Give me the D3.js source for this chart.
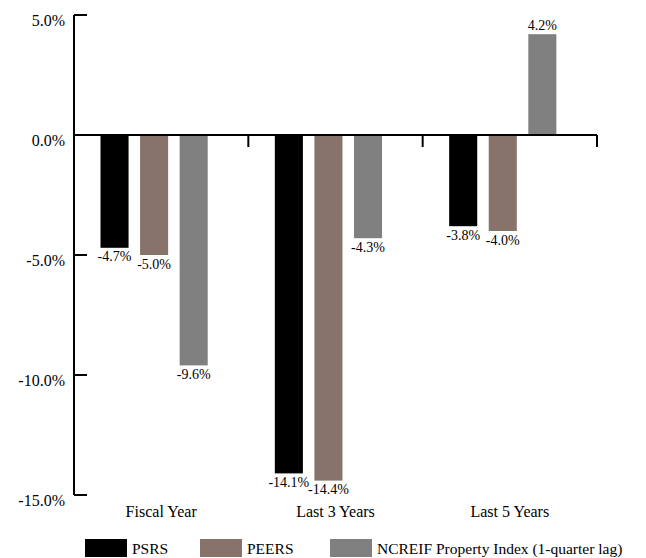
<!DOCTYPE html>
<html><head><meta charset="utf-8">
<script src="https://cdn.jsdelivr.net/npm/d3@7"></script>
<style>body{margin:0;background:#fff}svg{display:block;font-family:"Liberation Serif","Times New Roman",serif}</style>
</head><body><svg id="c" width="646" height="558"></svg>
<script>
const categories = ["Fiscal Year", "Last 3 Years", "Last 5 Years"];
const seriesNames = ["PSRS", "PEERS", "NCREIF Property Index (1-quarter lag)"];
const psrs = [-4.7, -14.1, -3.8];
const peers = [-5.0, -14.4, -4.0];
const ncreif = [-9.6, -4.3, 4.2];
const yTicks = [5, 0, -5, -10, -15];
const colors = ["#000000", "#877369", "#808080"];

(function () {
const seriesValues = [psrs, peers, ncreif];
const svg = d3.select("#c");
const fmt = v => d3.format(".1f")(v).replace("\u2212", "-") + "%";
const pLeft = 74, pRight = 597, pTop = 15, pBottom = 495;
const y = d3.scaleLinear().domain([-15, 5]).range([pBottom, pTop]);
const x = d3.scaleBand().domain(categories).range([pLeft, pRight]).padding(0);
const bw = x.bandwidth();
const inner = d3.scaleLinear().domain([0, 1]).range([bw * 0.152, bw * 0.152 + bw * 0.227]);
const barW = bw * 0.161;

// y axis
svg.append("line").attr("x1", pLeft).attr("x2", pLeft).attr("y1", y(5)).attr("y2", y(-15))
  .attr("stroke", "#000").attr("stroke-width", 2);
yTicks.forEach(t => {
  svg.append("line").attr("x1", pLeft).attr("x2", pLeft + 13).attr("y1", y(t)).attr("y2", y(t))
    .attr("stroke", "#000").attr("stroke-width", 2);
  svg.append("text").attr("x", 65).attr("y", y(t) + 10.5).attr("text-anchor", "end")
    .attr("font-size", 16).text(fmt(t));
});

// bars
seriesValues.forEach((vals, s) => {
  categories.forEach((c, i) => {
    const v = vals[i];
    const bx = x(c) + inner(s);
    svg.append("rect").attr("x", bx).attr("width", barW)
      .attr("y", Math.min(y(v), y(0))).attr("height", Math.abs(y(v) - y(0)))
      .attr("fill", colors[s]);
    svg.append("text").attr("x", bx + barW / 2)
      .attr("y", v < 0 ? y(v) + 13.5 : y(v) - 4)
      .attr("text-anchor", "middle").attr("font-size", 14)
      .text(fmt(v));
  });
});

// x axis
svg.append("line").attr("x1", pLeft).attr("x2", pRight).attr("y1", y(0)).attr("y2", y(0))
  .attr("stroke", "#000").attr("stroke-width", 2);
categories.forEach((c, i) => {
  const tx = x(c) + bw;
  svg.append("line").attr("x1", tx).attr("x2", tx).attr("y1", y(0)).attr("y2", y(0) + 12)
    .attr("stroke", "#000").attr("stroke-width", 2);
  svg.append("text").attr("x", x(c) + bw / 2).attr("y", 517).attr("text-anchor", "middle")
    .attr("font-size", 16).text(c);
});

// legend
const legX = [85, 200, 330];
seriesNames.forEach((n, s) => {
  svg.append("rect").attr("x", legX[s]).attr("y", 539).attr("width", 42).attr("height", 18).attr("fill", colors[s]);
  svg.append("text").attr("x", legX[s] + 47).attr("y", 553.5).attr("font-size", 15.5).text(n);
});
})();
</script></body></html>
